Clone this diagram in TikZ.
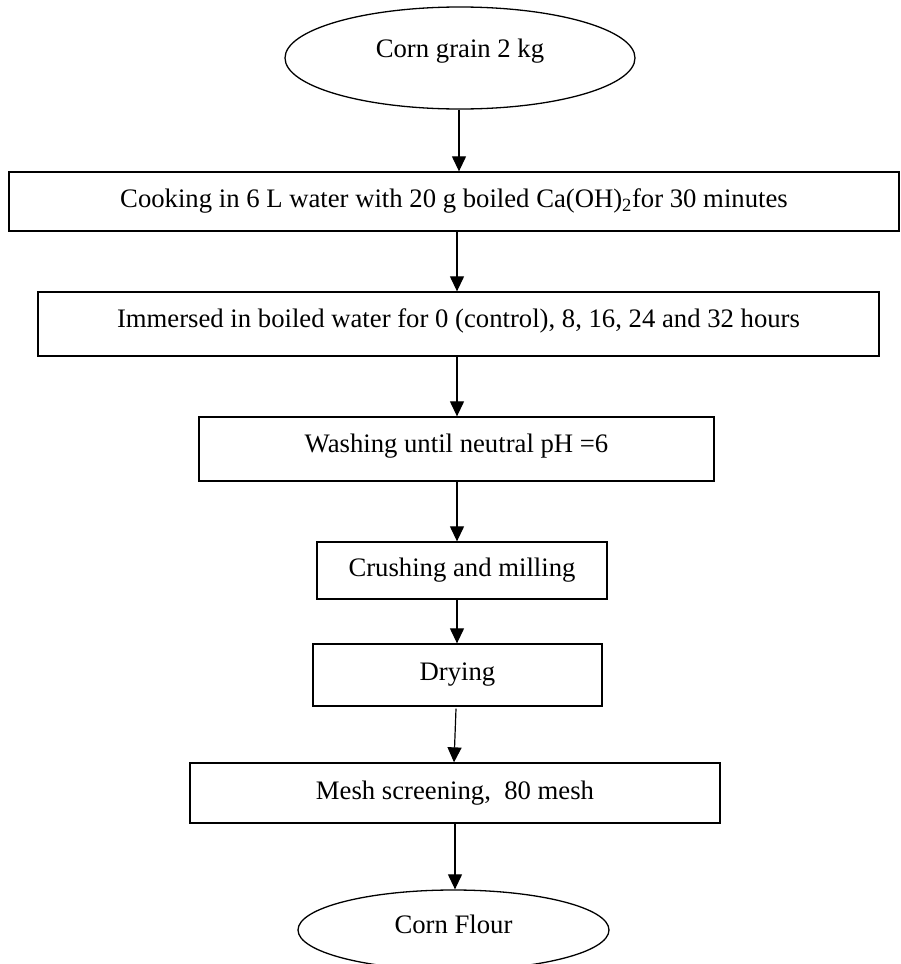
\documentclass[tikz,border=0pt]{standalone}
\usepackage{fontspec}
\setmainfont{Liberation Serif}
\usetikzlibrary{shapes.geometric,arrows.meta}
\begin{document}
\begin{tikzpicture}[x=1pt,y=-1pt,
  every node/.style={font=\fontsize{26.7}{32}\selectfont, inner sep=0pt, text height=18.7pt, text depth=5.9pt},
  stepbox/.style={draw, line width=1.3pt, rectangle},
  oval/.style={draw, line width=1.3pt, ellipse, inner sep=0pt},
  arr/.style={line width=1.2pt, -{Triangle[length=15pt,width=14pt]}},
  raised/.style={text depth=#1}
]
\useasboundingbox (0,0) rectangle (900,964);
\node[oval, minimum width=350pt, minimum height=102pt, raised=19.1pt] (e1) at (460,58) {Corn grain 2 kg};
\node[stepbox, minimum width=890pt, minimum height=59pt] (b1) at (454,201.5) {Cooking in 6 L water with 20 g boiled Ca(OH)\textsubscript{2}for 30 minutes};
\node[stepbox, minimum width=841pt, minimum height=64pt, raised=11.1pt] (b2) at (458.5,324) {Immersed in boiled water for 0 (control), 8, 16, 24 and 32 hours};
\node[stepbox, minimum width=515pt, minimum height=64pt, raised=11.1pt] (b3) at (456.5,449) {Washing until neutral pH =6};
\node[stepbox, minimum width=290pt, minimum height=57pt] (b4) at (462,570.5) {Crushing and milling};
\node[stepbox, minimum width=289pt, minimum height=62pt, raised=7pt] (b5) at (457.5,675) {Drying};
\node[stepbox, minimum width=530pt, minimum height=60pt] (b6) at (455,793) {Mesh screening,\ \ 80 mesh};
\node[oval, minimum width=311pt, minimum height=80pt, raised=11.1pt] (e2) at (453.5,930) {Corn Flour};
\draw[arr] ([xshift=-1pt]e1.south) -- ([xshift=-1pt]e1.south |- b1.north);
\draw[arr] ([xshift=3pt]b1.south) -- ([xshift=3pt]b1.south |- b2.north);
\draw[arr] ([xshift=-1.5pt]b2.south) -- ([xshift=-1.5pt]b2.south |- b3.north);
\draw[arr] ([xshift=0.5pt]b3.south) -- ([xshift=0.5pt]b3.south |- b4.north);
\draw[arr] ([xshift=-5pt]b4.south) -- ([xshift=-5pt]b4.south |- b5.north);
\draw[arr] ([xshift=-1.5pt,yshift=-2pt]b5.south) -- ([xshift=-1pt]b6.north);
\draw[arr] (b6.south) -- (b6.south |- e2.north);
\end{tikzpicture}
\end{document}
